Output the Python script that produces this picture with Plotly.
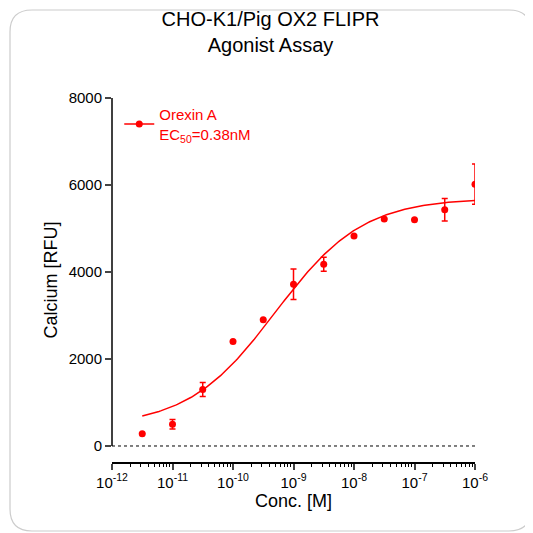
import plotly.graph_objects as go
import numpy as np

conc = [3.16e-12, 1e-11, 3.16e-11, 1e-10, 3.16e-10, 1e-9, 3.16e-9, 1e-8, 3.16e-8, 1e-7, 3.16e-7, 1e-6]
rfu = [280, 500, 1300, 2400, 2900, 3720, 4180, 4830, 5220, 5200, 5430, 6020]
err = [0, 110, 160, 0, 0, 350, 160, 0, 0, 0, 260, 460]

# fitted 4PL curve parameters (as drawn)
bottom, top, log_ec50, hill = 450, 5700, -9.3, 0.6
xfit = np.logspace(-11.5, -6, 200)
yfit = bottom + (top - bottom) / (1 + 10 ** ((log_ec50 - np.log10(xfit)) * hill))

red = "#ff0000"
fig = go.Figure()
fig.add_trace(go.Scatter(x=xfit, y=yfit, mode="lines", line=dict(color=red, width=1.5),
                         showlegend=False, hoverinfo="skip"))
fig.add_trace(go.Scatter(x=conc, y=rfu, mode="markers", marker=dict(color=red, size=7),
                         error_y=dict(type="data", array=err, color=red, thickness=1.5, width=3),
                         showlegend=False))
fig.add_trace(go.Scatter(x=[None], y=[None], mode="lines+markers",
                         line=dict(color=red, width=1.5), marker=dict(color=red, size=7),
                         name="Orexin A<br>EC<sub>50</sub>=0.38nM"))

fig.add_shape(type="line", xref="x", yref="y", x0=1e-12, x1=1e-6, y0=0, y1=0,
              line=dict(color="black", width=1, dash="dot"))
fig.add_shape(type="line", xref="paper", yref="y", x0=0, x1=0, y0=0, y1=8000,
              line=dict(color="black", width=1.5))

# rounded frame
L, R, B, T = -102 / 363, 1 + 56 / 363, -69 / 364, 1 + 88 / 364
rx, ry = 22 / 363, 22 / 364
path = (f"M{L+rx},{T} L{R-rx},{T} Q{R},{T} {R},{T-ry} L{R},{B+ry} Q{R},{B} {R-rx},{B} "
        f"L{L+rx},{B} Q{L},{B} {L},{B+ry} L{L},{T-ry} Q{L},{T} {L+rx},{T} Z")
fig.add_shape(type="path", xref="paper", yref="paper", path=path,
              line=dict(color="#cccccc", width=1.2))

fig.update_layout(
    width=525, height=525, paper_bgcolor="white", plot_bgcolor="white",
    margin=dict(l=104, r=58, t=90, b=71),
    font=dict(family="Liberation Sans, Arial", size=15, color="black"),
    title=dict(text="CHO-K1/Pig OX2 FLIPR<br>Agonist Assay", x=0.5, xanchor="center",
               y=0.965, yanchor="top", font=dict(size=20)),
    legend=dict(x=0.02, y=1.0, xanchor="left", yanchor="top", font=dict(color=red, size=15),
                bgcolor="rgba(0,0,0,0)"),
    xaxis=dict(type="log", range=[-12, -6], showline=True, linecolor="black", linewidth=1.5,
               ticks="outside", ticklen=6, tickwidth=1.5, showgrid=False, zeroline=False,
               tickvals=[1e-12, 1e-11, 1e-10, 1e-9, 1e-8, 1e-7, 1e-6],
               ticktext=["10<sup>-12</sup>", "10<sup>-11</sup>", "10<sup>-10</sup>", "10<sup>-9</sup>",
                         "10<sup>-8</sup>", "10<sup>-7</sup>", "10<sup>-6</sup>"],
               minor=dict(ticks="outside", ticklen=3, tickwidth=1, tickcolor="black",
                          dtick="D1", showgrid=False),
               title=dict(text="Conc. [M]", standoff=4)),
    yaxis=dict(range=[-368, 8000], showline=False, ticks="outside", ticklen=6, tickwidth=1.5,
               tickvals=[0, 2000, 4000, 6000, 8000], showgrid=False, zeroline=False,
               title=dict(text="Calcium [RFU]", standoff=6)),
)
fig.write_html("out.html")
